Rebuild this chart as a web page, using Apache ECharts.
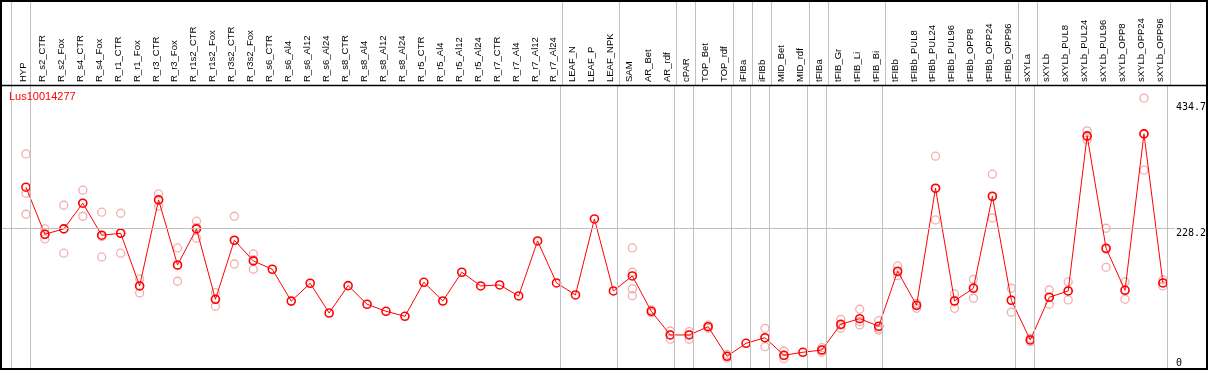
<!DOCTYPE html>
<html>
<head>
<meta charset="utf-8">
<script src="https://cdn.jsdelivr.net/npm/echarts@6/dist/echarts.min.js"></script>
<style>
  html, body { margin: 0; padding: 0; background: #fff; }
  #chart { width: 1209px; height: 370px; }
</style>
</head>
<body>
<div id="chart"></div>
<script>
const categories = [
  "HYP", "R_s2_CTR", "R_s2_Fox", "R_s4_CTR", "R_s4_Fox", "R_r1_CTR", "R_r1_Fox",
  "R_r3_CTR", "R_r3_Fox", "R_r1s2_CTR", "R_r1s2_Fox", "R_r3s2_CTR", "R_r3s2_Fox",
  "R_s6_CTR", "R_s6_Al4", "R_s6_Al12", "R_s6_Al24", "R_s8_CTR", "R_s8_Al4", "R_s8_Al12",
  "R_s8_Al24", "R_r5_CTR", "R_r5_Al4", "R_r5_Al12", "R_r5_Al24", "R_r7_CTR", "R_r7_Al4",
  "R_r7_Al12", "R_r7_Al24", "LEAF_N", "LEAF_P", "LEAF_NPK", "SAM", "AR_Bet", "AR_rdf",
  "cPAR", "TOP_Bet", "TOP_rdf", "iFIBa", "iFIBb", "MID_Bet", "MID_rdf", "tFIBa",
  "tFIB_Gr", "tFIB_Li", "tFIB_Bi", "tFIBb", "tFIBb_PUL8", "tFIBb_PUL24", "tFIBb_PUL96",
  "tFIBb_OPP8", "tFIBb_OPP24", "tFIBb_OPP96", "sXYLa", "sXYLb", "sXYLb_PUL8",
  "sXYLb_PUL24", "sXYLb_PUL96", "sXYLb_OPP8", "sXYLb_OPP24", "sXYLb_OPP96"
];

// mean expression per sample (red line)
const meanValues = [
  295.5, 218.6, 227.3, 269.3, 217.0, 220.2, 134.1, 274.7, 168.4, 227.3, 112.3, 208.8, 175.0,
  161.4, 109.3, 138.5, 89.9, 134.6, 104.2, 92.7, 84.5, 140.1, 109.5, 156.5, 134.1,
  135.7, 117.7, 207.6, 139.0, 119.4, 243.6, 125.9, 150.4, 92.7, 54.0, 54.0, 67.5,
  19.1, 40.4, 49.5, 20.8, 25.7, 29.4, 71.5, 80.6, 68.2, 158.1, 102.5, 293.8, 109.5,
  130.3, 280.7, 110.7, 45.8, 115.6, 125.9, 379.3, 195.7, 127.0, 382.6, 139.0
];

// single replicates (faint circles)
const replicates = [
  [349.9, 285.6, 251.3], [227.3, 218.6, 210.9], [266.0, 227.9, 187.6], [290.6, 269.3, 248.0],
  [254.6, 214.8, 181.5], [252.9, 220.2, 187.6], [145.5, 134.1, 122.6], [284.5, 275.2, 264.4],
  [196.2, 167.3, 141.8], [239.9, 229.9, 212.1], [123.1, 112.8, 100.9], [248.0, 208.3, 170.0],
  [186.4, 177.1, 161.4],
  [], [], [], [], [], [], [], [], [], [], [], [], [], [], [], [], [], [], [],
  [196.2, 156.5, 129.2, 118.2], [95.0, 90.5], [60.5, 54.0, 46.9], [59.4, 55.0, 46.9],
  [70.0, 67.5, 64.9], [22.3, 19.1, 16.0], [], [64.9, 49.0, 34.8], [27.8, 20.0, 15.2], [],
  [33.2, 29.4, 25.6], [79.6, 69.9, 64.9], [96.0, 75.9, 70.3], [77.3, 64.9, 62.1],
  [166.8, 157.0, 150.9], [105.7, 101.6, 97.6], [346.1, 293.2, 242.0], [121.0, 110.0, 97.6],
  [145.0, 132.0, 114.0], [316.7, 280.2, 245.3], [130.3, 110.7, 91.1], [48.5, 45.8, 43.1],
  [127.5, 115.0, 104.2], [140.6, 125.9, 111.2], [387.5, 377.7, 372.8], [228.4, 193.9, 164.6],
  [140.6, 128.0, 112.3], [441.0, 383.6, 323.3], [143.9, 139.0, 134.1]
];

// group boundaries (column index where a new tissue group starts)
const groupBreaks = [0, 1, 29, 32, 35, 36, 38, 39, 40, 42, 43, 46, 53, 54, 61];
const yTickValues = [228.2, 434.7];
const yMax = 462.5;

// each column is 19px wide, the point sits 15px into it
const colW = 19;
const xMin = -24 / colW;
const xMax = xMin + 1176 / colW;
const breakPos = groupBreaks.map((k) => k - 15 / colW);
const labelPos = categories.map((c, i) => i - 2.7 / colW);

const chart = echarts.init(document.getElementById("chart"));

const sepLine = { color: "#c0c0c0", width: 1, type: "solid" };

const option = {
  animation: false,
  title: {
    text: "Lus10014277",
    left: 9,
    top: 91,
    padding: 0,
    textStyle: { color: "#ff0000", fontSize: 11, fontWeight: "normal", fontFamily: "Liberation Sans" },
  },
  grid: [
    { left: 2, right: 31, top: 0, height: 85 },
    { left: 2, right: 31, top: 85, bottom: 2 },
  ],
  xAxis: [
    { gridIndex: 0, type: "value", min: xMin, max: xMax, show: false },
    {
      gridIndex: 1,
      type: "value",
      min: xMin,
      max: xMax,
      position: "top",
      axisLine: { show: false },
      axisTick: { show: false },
      splitLine: { show: false },
      axisLabel: {
        customValues: labelPos,
        rotate: 90,
        margin: 3,
        color: "#000",
        fontSize: 9.5,
        fontFamily: "Liberation Sans",
        formatter: (v) => categories[Math.round(v)],
      },
    },
  ],
  yAxis: [
    { gridIndex: 0, type: "value", min: 0, max: 1, show: false },
    {
      gridIndex: 1,
      type: "value",
      min: 0,
      max: yMax,
      position: "right",
      axisLine: { show: false },
      axisTick: { show: false },
      splitLine: { show: false },
      axisLabel: {
        customValues: yTickValues,
        verticalAlign: "top",
        margin: 1,
        color: "#000",
        fontSize: 10,
        fontFamily: "DejaVu Sans Mono",
        formatter: (v) => v.toFixed(1),
      },
    },
    {
      gridIndex: 1,
      type: "value",
      min: 0,
      max: yMax,
      position: "right",
      axisLine: { show: false },
      axisTick: { show: false },
      splitLine: { show: false },
      axisLabel: {
        customValues: [0],
        verticalAlign: "bottom",
        margin: 1,
        color: "#000",
        fontSize: 10,
        fontFamily: "DejaVu Sans Mono",
      },
    },
  ],
  series: [
    {
      type: "line",
      xAxisIndex: 0,
      yAxisIndex: 0,
      data: [],
      silent: true,
      markLine: {
        silent: true,
        symbol: "none",
        label: { show: false },
        lineStyle: sepLine,
        data: breakPos.map((v) => ({ xAxis: v })),
      },
    },
    {
      type: "line",
      xAxisIndex: 1,
      yAxisIndex: 1,
      data: [],
      silent: true,
      markLine: {
        silent: true,
        symbol: "none",
        label: { show: false },
        lineStyle: sepLine,
        data: breakPos.map((v) => ({ xAxis: v })).concat([{ yAxis: yTickValues[0] }]),
      },
    },
    {
      name: "replicates",
      type: "scatter",
      xAxisIndex: 1,
      yAxisIndex: 1,
      symbol: "circle",
      symbolSize: 8,
      data: replicates.flatMap((vals, i) => vals.map((v) => [i, v])),
      itemStyle: { color: "transparent", borderColor: "#ee9a9a", borderWidth: 1.3 },
    },
    {
      name: "mean",
      type: "line",
      xAxisIndex: 1,
      yAxisIndex: 1,
      showAllSymbol: true,
      symbol: "circle",
      symbolSize: 8,
      data: meanValues.map((v, i) => [i, v]),
      lineStyle: { color: "#ff0000", width: 1 },
      itemStyle: { color: "transparent", borderColor: "#ff0000", borderWidth: 1.6 },
    },
  ],
  graphic: [
    {
      type: "rect",
      z: 100,
      shape: { x: 1, y: 1, width: 1206, height: 368 },
      style: { fill: null, stroke: "#000", lineWidth: 2 },
    },
    {
      type: "line",
      z: 100,
      shape: { x1: 1, y1: 85.5, x2: 1207, y2: 85.5 },
      style: { stroke: "#000", lineWidth: 1.5 },
    },
  ],
};

chart.setOption(option);
</script>
</body>
</html>
